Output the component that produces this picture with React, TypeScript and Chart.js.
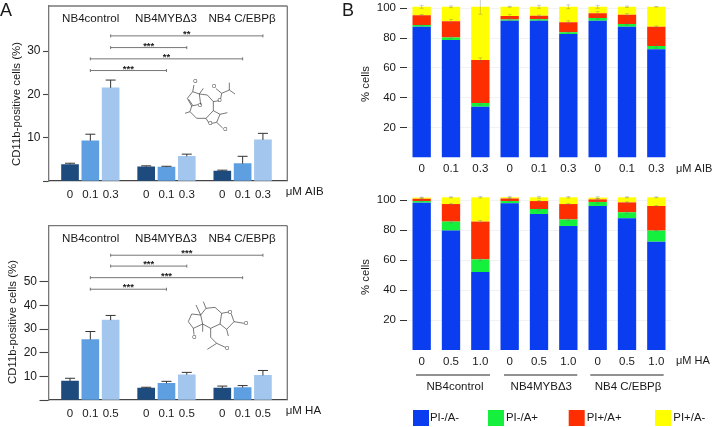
import React, { useEffect, useRef } from "react";
import { Chart, registerables } from "chart.js";

Chart.register(...registerables);

const FONT = '"Liberation Sans", Arial, sans-serif';
const groupSlots = [0, 1, 2, 3.75, 4.75, 5.75, 7.5, 8.5, 9.5];
const barShades = ["#1e4b7d", "#5e9fe2", "#a2c6ee"];
const groupNames = ["NB4control", "NB4MYBΔ3", "NB4 C/EBPβ"];

const aibDoseA = ["0", "0.1", "0.3", "0", "0.1", "0.3", "0", "0.1", "0.3"];
const aibValues = [3.8, 9.3, 21.5, 3.3, 3.2, 5.7, 2.3, 4.0, 9.5];
const aibErrTop = [4.1, 10.8, 23.3, 3.5, 3.4, 6.2, 2.5, 5.7, 11];
const aibBracketLevels = [33.5, 30.8, 28.2, 25.5];

const haDoseA = ["0", "0.1", "0.5", "0", "0.1", "0.5", "0", "0.1", "0.5"];
const haValues = [8, 25.6, 33.8, 5, 7.1, 10.7, 5, 5.3, 10.4];
const haErrTop = [9.2, 29, 35.8, 5.4, 7.9, 11.7, 5.9, 6.1, 12.5];
const haBracketLevels = [61.3, 56.7, 51.8, 46.9];

const bracketFrom = [2, 2, 1, 1];
const bracketTo = [9.5, 5.75, 8.5, 4.75];
const aibStars = ["**", "***", "**", "***"];
const haStars = ["***", "***", "***", "***"];

const stackNames = ["PI-/A-", "PI-/A+", "PI+/A+", "PI+/A-"];
const stackColors = ["#0a3cf0", "#14f03c", "#ff2e00", "#ffff00"];

const aibDoseB = ["0", "0.1", "0.3", "0", "0.1", "0.3", "0", "0.1", "0.3"];
const aibBlue = [87.7, 78.7, 34, 91.7, 91.7, 82.8, 91.7, 87.7, 72.5];
const aibGreen = [1.1, 1.8, 2.5, 0.7, 0.9, 1.2, 1.8, 1.8, 2.2];
const aibRed = [6.5, 10.8, 28.8, 2.5, 2.4, 6.6, 3.1, 6.2, 13];
const aibYellow = [5.7, 9.7, 35.7, 6.1, 6, 10.4, 4.4, 5.3, 13.3];
const aibGreenErr = [0.5, 0.8, 1, 0.8, 0.6, 0.4, 0.7, 0.7, 1.3];
const aibRedErr = [0.5, 1.2, 1.5, 1, 0.5, 1, 1.2, 0.7, 0.4];
const aibYellowErr = [1, 0.6, 5, 0.3, 1, 1.3, 1, 0.5, 0.1];

const haDoseB = ["0", "0.5", "1.0", "0", "0.5", "1.0", "0", "0.5", "1.0"];
const haBlue = [98.2, 79.6, 52, 97.8, 90.7, 82.7, 96, 87.8, 72.2];
const haGreen = [1.1, 6, 8.4, 1.5, 3.3, 4.3, 2.7, 4, 7.4];
const haRed = [1.5, 11.7, 25.2, 1.7, 5.3, 10.3, 1.7, 6.6, 16.4];
const haYellow = [0.8, 4.5, 16.2, 0.8, 2.5, 4.5, 1.2, 3.4, 5.8];
const haGreenErr = [0.3, 0.8, 0.8, 0.2, 0.9, 0.7, 0.9, 0.6, 0.2];
const haRedErr = [0.4, 0.3, 0.7, 0.4, 0.4, 0.3, 0.5, 0.4, 0.3];
const haYellowErr = [0.3, 0.3, 0.5, 0.6, 0.6, 0.5, 0.6, 0.3, 0.3];

function label(ctx: any, text: string, x: number, y: number, size = 11.5, align = "left", rotate = false, bold = false) {
  ctx.save();
  ctx.fillStyle = "#1a1a1a";
  ctx.font = `${bold ? "bold " : ""}${size}px ${FONT}`;
  ctx.textAlign = align;
  ctx.textBaseline = "middle";
  ctx.translate(x, y);
  if (rotate) ctx.rotate(-Math.PI / 2);
  ctx.fillText(text, 0, 0);
  ctx.restore();
}

function segment(ctx: any, x1: number, y1: number, x2: number, y2: number) {
  ctx.beginPath();
  ctx.moveTo(x1, y1);
  ctx.lineTo(x2, y2);
  ctx.stroke();
}

function noPadding(s: any) {
  s.paddingTop = 0;
  s.paddingBottom = 0;
  s.paddingLeft = 0;
  s.paddingRight = 0;
}

function makePanelA(canvas: HTMLCanvasElement, cfg: any) {
  return new Chart(canvas, {
    type: "bar",
    data: {
      datasets: [
        {
          label: "CD11b-positive cells (%)",
          data: cfg.values.map((v: number, i: number) => ({ x: groupSlots[i], y: v })),
          backgroundColor: groupSlots.map((_, i) => barShades[i % 3]),
          barThickness: 17,
        },
      ],
    },
    options: {
      responsive: false,
      animation: false,
      devicePixelRatio: 1,
      layout: { padding: { top: cfg.padTop, right: 48.7, left: 0, bottom: 0 } },
      plugins: { legend: { display: false }, tooltip: { enabled: false } },
      scales: {
        x: {
          type: "linear",
          min: -1.06,
          max: 10.7,
          offset: false,
          grid: { display: false, drawTicks: false },
          border: { color: "#444", width: 1.2 },
          ticks: {
            autoSkip: false,
            maxRotation: 0,
            padding: 6.5,
            color: "#1a1a1a",
            font: { family: FONT, size: 11.5 },
            callback: (_v: any, i: number) => cfg.doses[i],
          },
          afterBuildTicks: (s: any) => {
            s.ticks = groupSlots.map((value) => ({ value }));
          },
          afterFit: (s: any) => {
            s.height = cfg.xHeight;
            noPadding(s);
          },
        },
        y: {
          min: 0,
          max: cfg.yMax,
          grid: { drawOnChartArea: false, tickLength: cfg.tickLen, tickColor: "#444", tickWidth: 1.1 },
          border: { color: "#777", width: 1.3 },
          ticks: {
            padding: 2.5,
            color: "#1a1a1a",
            font: { family: FONT, size: 12 },
            callback: (v: any) => (v === 0 ? "" : String(v)),
          },
          afterBuildTicks: (s: any) => {
            s.ticks = cfg.yTicks.map((value: number) => ({ value }));
          },
          afterFit: (s: any) => {
            s.width = 48.5;
            noPadding(s);
          },
        },
      },
    },
    plugins: [
      {
        id: "panelA",
        afterDatasetsDraw(chart: any) {
          const { ctx, chartArea: a, scales } = chart;
          const { x, y } = scales;
          ctx.save();
          ctx.strokeStyle = "#777";
          ctx.lineWidth = 1.3;
          segment(ctx, a.left, a.top, a.right, a.top);
          segment(ctx, a.right, a.top, a.right, a.bottom);
          ctx.strokeStyle = "#333";
          ctx.lineWidth = 1;
          cfg.errTop.forEach((e: number, i: number) => {
            const px = x.getPixelForValue(groupSlots[i]);
            segment(ctx, px, y.getPixelForValue(cfg.values[i]), px, y.getPixelForValue(e));
            segment(ctx, px - 5, y.getPixelForValue(e), px + 5, y.getPixelForValue(e));
          });
          ctx.strokeStyle = "#666";
          ctx.lineWidth = 0.9;
          cfg.levels.forEach((lv: number, i: number) => {
            const py = y.getPixelForValue(lv);
            const x1 = x.getPixelForValue(bracketFrom[i]);
            const x2 = x.getPixelForValue(bracketTo[i]);
            segment(ctx, x1, py, x2, py);
            segment(ctx, x1, py - 1.5, x1, py + 1.5);
            segment(ctx, x2, py - 1.5, x2, py + 1.5);
            label(ctx, cfg.stars[i], (x1 + x2) / 2, py - 1.5, 9.5, "center", false, true);
          });
          ctx.restore();
          groupNames.forEach((n, i) => label(ctx, n, [90.7, 166, 242][i], a.top + 13, 11.6, "center"));
          label(ctx, cfg.unit, 285.7, a.bottom + 11, 11.5);
          label(ctx, "CD11b-positive cells (%)", cfg.titleX, cfg.titleY, 11.4, "center", true);
          if (cfg.letter) label(ctx, cfg.letter, 0, 11, 18);
        },
      },
    ],
  } as any);
}

function makePanelB(canvas: HTMLCanvasElement, cfg: any) {
  return new Chart(canvas, {
    type: "bar",
    data: {
      labels: cfg.doses,
      datasets: cfg.stacks.map((data: number[], i: number) => ({
        label: stackNames[i],
        data,
        backgroundColor: stackColors[i],
        categoryPercentage: 1,
        barPercentage: 0.625,
      })),
    },
    options: {
      responsive: false,
      animation: false,
      devicePixelRatio: 1,
      layout: { padding: { top: cfg.padTop, right: 41, left: 0, bottom: 0 } },
      plugins: { legend: { display: false }, tooltip: { enabled: false } },
      scales: {
        x: {
          stacked: true,
          grid: { display: false, drawTicks: false },
          border: { display: false },
          ticks: { autoSkip: false, maxRotation: 0, padding: 4.5, color: "#1a1a1a", font: { family: FONT, size: 11.5 } },
          afterFit: (s: any) => {
            s.height = cfg.xHeight;
            noPadding(s);
          },
        },
        y: {
          stacked: true,
          min: 0,
          max: 102,
          grid: {
            color: "rgba(0,0,0,0.05)",
            tickLength: 7,
            tickColor: "#333",
            tickWidth: 1,
          },
          border: { display: false },
          ticks: {
            padding: 4,
            color: "#1a1a1a",
            font: { family: FONT, size: 11.5 },
            callback: (v: any) => (v === 0 ? "" : String(v)),
          },
          afterBuildTicks: (s: any) => {
            s.ticks = [20, 40, 60, 80, 100].map((value) => ({ value }));
          },
          afterFit: (s: any) => {
            s.width = 71;
            noPadding(s);
          },
        },
      },
    },
    plugins: [
      {
        id: "panelB",
        afterDatasetsDraw(chart: any) {
          const { ctx, chartArea: a, scales } = chart;
          const { x, y } = scales;
          ctx.save();
          ctx.strokeStyle = "rgba(110,110,110,0.55)";
          ctx.lineWidth = 0.6;
          cfg.doses.forEach((_: string, i: number) => {
            const px = x.getPixelForValue(i);
            let cum = 0;
            cfg.stacks.forEach((s: number[], k: number) => {
              cum += s[i];
              const err = k === 0 ? 0 : cfg.errs[k - 1][i];
              if (!err) return;
              const hi = y.getPixelForValue(cum + err);
              const lo = y.getPixelForValue(cum - err);
              segment(ctx, px, hi, px, lo);
              segment(ctx, px - 2, hi, px + 2, hi);
              segment(ctx, px - 2, lo, px + 2, lo);
            });
          });
          ctx.restore();
          label(ctx, cfg.unit, 340, a.bottom + 11, 11);
          label(ctx, "% cells", 30, cfg.titleY, 11.3, "center", true);
          if (cfg.letter) label(ctx, cfg.letter, 6, 11, 18);
          if (cfg.footer) {
            const lineX = [[80, 154], [168, 241.3], [254.3, 327.7]];
            const nameX = [119, 205.3, 292];
            ctx.save();
            ctx.strokeStyle = "#222";
            ctx.lineWidth = 1;
            lineX.forEach(([p, q], i) => {
              segment(ctx, p, a.bottom + 25, q, a.bottom + 25);
              label(ctx, groupNames[i], nameX[i], a.bottom + 37, 11.5, "center");
            });
            const boxX = [77, 152, 232.7, 319];
            const textX = [94, 170, 250.7, 337.3];
            stackNames.forEach((n, i) => {
              ctx.fillStyle = stackColors[i];
              ctx.fillRect(boxX[i], a.bottom + 60, 16, 16);
              label(ctx, n, textX[i], a.bottom + 68, 11.4);
            });
            ctx.restore();
          }
        },
      },
    ],
  } as any);
}

const aibBonds = [
  [[72, 45], [68, 65], [52, 85], [65, 108], [60, 125], [80, 145], [108, 145], [130, 122], [130, 95], [112, 75], [88, 72], [68, 65]],
  [[56, 88], [68, 106]],
  [[65, 108], [84, 104]],
  [[92, 104], [88, 72], [100, 55]],
  [[60, 125], [45, 130]],
  [[108, 145], [116, 158]],
  [[126, 160], [140, 157], [150, 133], [130, 122]],
  [[140, 157], [158, 174]],
  [[150, 133], [172, 128]],
  [[130, 95], [146, 92]],
  [[152, 86], [155, 70], [138, 56]],
  [[155, 70], [178, 60], [178, 38]],
  [[178, 60], [195, 72]],
];
const haBonds = [
  [[70, 85], [55, 65], [65, 42], [92, 45], [98, 72], [70, 85]],
  [[92, 45], [108, 25], [135, 22], [155, 40], [150, 72], [122, 85], [98, 72]],
  [[108, 25], [100, 5]],
  [[92, 45], [78, 15]],
  [[70, 85], [72, 104]],
  [[98, 72], [98, 95]],
  [[155, 40], [176, 36]],
  [[184, 42], [192, 65], [170, 88], [150, 72]],
  [[192, 65], [222, 70]],
  [[170, 88], [175, 108]],
  [[122, 85], [122, 112], [140, 130], [112, 148]],
  [[140, 130], [166, 142]],
];

function Molecule({ bonds, x, y, atoms }: any) {
  return (
    <svg style={{ position: "absolute", left: x, top: y }} width={90} height={80} viewBox="0 0 270 240">
      {bonds.map((b: number[][], i: number) => (
        <polyline key={i} points={b.map((p) => p.join(",")).join(" ")} fill="none" stroke="#333" strokeWidth={2} />
      ))}
      {atoms.map(([ax, ay]: number[], i: number) => (
        <text key={i} x={ax} y={ay} fontSize={16} fontFamily={FONT} textAnchor="middle" dominantBaseline="middle" fill="#333">
          O
        </text>
      ))}
    </svg>
  );
}

export default function App() {
  const a1 = useRef<HTMLCanvasElement>(null);
  const a2 = useRef<HTMLCanvasElement>(null);
  const b1 = useRef<HTMLCanvasElement>(null);
  const b2 = useRef<HTMLCanvasElement>(null);

  useEffect(() => {
    const charts = [
      makePanelA(a1.current!, {
        values: aibValues, errTop: aibErrTop, doses: aibDoseA, levels: aibBracketLevels, stars: aibStars,
        yMax: 40.4, yTicks: [0, 10, 20, 30], padTop: 6, xHeight: 29, tickLen: 5.5,
        unit: "μM AIB", titleX: 16.7, titleY: 104, letter: "A",
      }),
      makePanelA(a2.current!, {
        values: haValues, errTop: haErrTop, doses: haDoseA, levels: haBracketLevels, stars: haStars,
        yMax: 73.8, yTicks: [0, 10, 20, 30, 40, 50], padTop: 13.7, xHeight: 27, tickLen: 9,
        unit: "μM HA", titleX: 13.3, titleY: 110,
      }),
      makePanelB(b1.current!, {
        doses: aibDoseB, stacks: [aibBlue, aibGreen, aibRed, aibYellow],
        errs: [aibGreenErr, aibRedErr, aibYellowErr],
        padTop: 5.3, xHeight: 37.5, unit: "μM AIB", titleY: 84, letter: "B",
      }),
      makePanelB(b2.current!, {
        doses: haDoseB, stacks: [haBlue, haGreen, haRed, haYellow],
        errs: [haGreenErr, haRedErr, haYellowErr],
        padTop: 7, xHeight: 77, unit: "μM HA", titleY: 87, footer: true,
      }),
    ];
    return () => charts.forEach((c) => c.destroy());
  }, []);

  const abs = (left: number, top: number): any => ({ position: "absolute", left, top });
  return (
    <div style={{ position: "fixed", left: 0, top: 0, width: 712, height: 427, background: "#fff", overflow: "hidden" }}>
      <canvas ref={a1} width={336} height={210} style={abs(0, 0)} />
      <canvas ref={a2} width={336} height={215} style={abs(0, 212)} />
      <canvas ref={b1} width={376} height={195} style={abs(336, 0)} />
      <canvas ref={b2} width={376} height={237} style={abs(336, 190)} />
      <Molecule bonds={aibBonds} x={170} y={70} atoms={[[76, 36], [90, 108], [121, 160], [149, 92], [132, 50], [166, 180]]} />
      <Molecule bonds={haBonds} x={170} y={300} atoms={[[180, 38], [73, 112], [228, 71], [171, 146]]} />
    </div>
  );
}
